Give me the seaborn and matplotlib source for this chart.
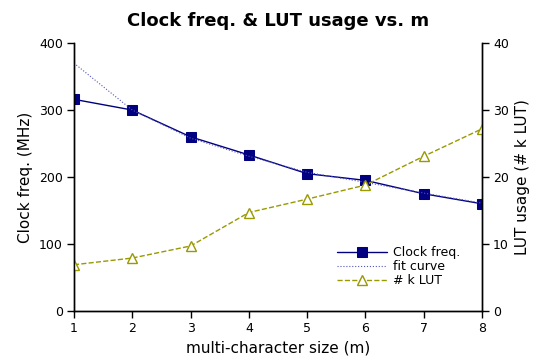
import matplotlib
matplotlib.use("Agg")
import matplotlib.pyplot as plt
import seaborn as sns
import pandas as pd

m = [1, 2, 3, 4, 5, 6, 7, 8]
clock_freq = [316, 300, 260, 233, 205, 195, 175, 160]
fit_curve = [370, 300, 258, 231, 207, 192, 176, 161]
k_lut = [6.9, 7.9, 9.7, 14.7, 16.7, 18.8, 23.1, 27.2]

df = pd.DataFrame({"m": m, "clock": clock_freq, "fit": fit_curve, "lut": k_lut})

sns.set_theme(style="white")
plt.rcParams['font.family'] = ['DejaVu Sans']
plt.rcParams['text.color'] = 'black'
plt.rcParams['axes.labelcolor'] = 'black'
plt.rcParams['xtick.color'] = 'black'
plt.rcParams['ytick.color'] = 'black'

fig = plt.figure(figsize=(5.38, 3.62), dpi=100)
ax = fig.add_axes([0.1375, 0.141, 0.7585, 0.74])
ax2 = ax.twinx()

navy = "#000080"
fitc = "#5555bb"
olive = "#999900"

sns.lineplot(data=df, x="m", y="clock", ax=ax, color=navy, marker="s", markersize=6.5,
             markeredgecolor=navy, linewidth=1, label="Clock freq.", legend=False)
sns.lineplot(data=df, x="m", y="fit", ax=ax, color=fitc, linestyle=":", linewidth=0.8,
             label="fit curve", legend=False)
sns.lineplot(data=df, x="m", y="lut", ax=ax2, color=olive, marker="^", markersize=6.5,
             markerfacecolor="white", markeredgecolor=olive, markeredgewidth=1,
             linestyle="--", linewidth=1, label="# k LUT", legend=False)

ax.set_xlim(1, 8)
ax.set_ylim(0, 400)
ax2.set_ylim(0, 40)
ax.set_xticks(m)
ax.set_yticks([0, 100, 200, 300, 400])
ax2.set_yticks([0, 10, 20, 30, 40])

for a in (ax, ax2):
    a.spines["top"].set_visible(False)
    for s in a.spines.values():
        s.set_color("black")
        s.set_linewidth(1)
    a.tick_params(direction="out", length=5, width=1, color="black", labelcolor="black",
                  labelsize=9, pad=3)
ax.tick_params(axis="both", left=True, bottom=True)
ax2.tick_params(axis="y", right=True)

ax.set_xlabel("multi-character size (m)", fontsize=11, color="black")
ax.set_ylabel("Clock freq. (MHz)", fontsize=11, color="black")
ax2.set_ylabel("LUT usage (# k LUT)", fontsize=11, color="black")
ax.set_title("Clock freq. & LUT usage vs. m", fontsize=13, fontweight="bold", pad=12,
             color="black")

h1, l1 = ax.get_legend_handles_labels()
h2, l2 = ax2.get_legend_handles_labels()
leg = ax.legend(h1 + h2, l1 + l2, loc="lower right", bbox_to_anchor=(0.965, 0.06), frameon=False,
                fontsize=9, handlelength=4.0, handletextpad=0.5, labelspacing=0.1,
                borderaxespad=0.2)
for t in leg.get_texts():
    t.set_color("black")

fig.savefig("out.png", dpi=100)
